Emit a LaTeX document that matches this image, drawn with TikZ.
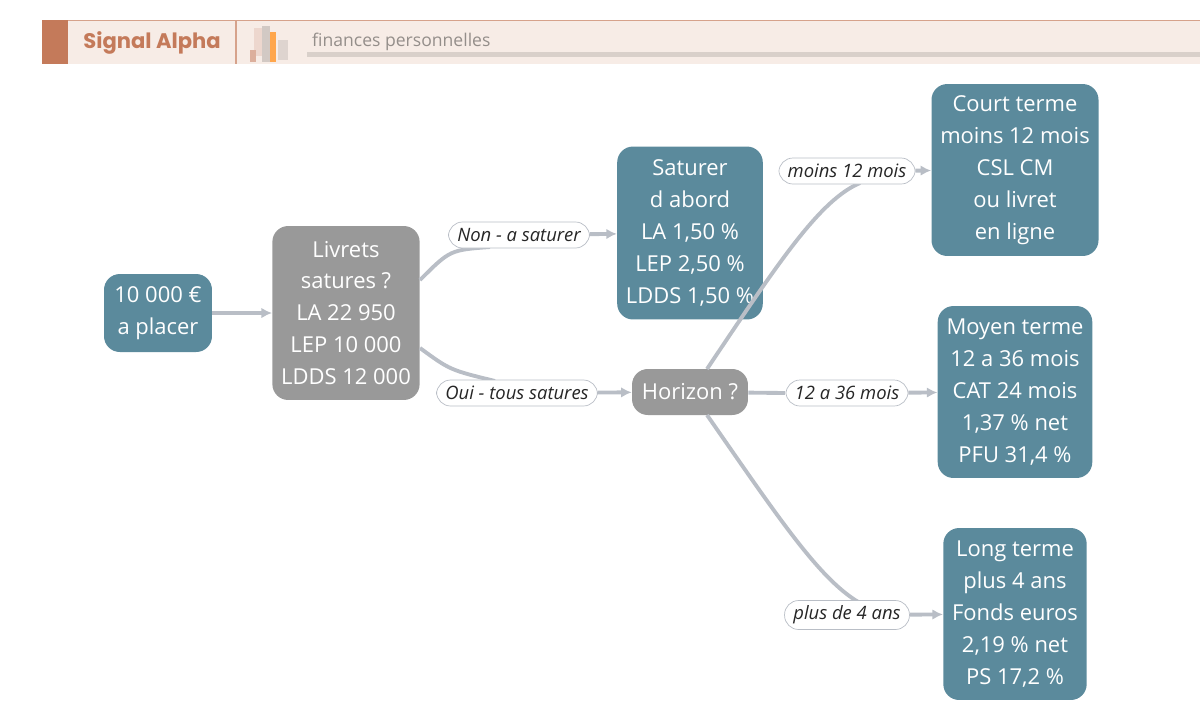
\documentclass[tikz,border=0pt]{standalone}
\usepackage{fontspec}
\setmainfont{Open Sans}
\newfontfamily\headfont{Poppins}
\usetikzlibrary{arrows.meta}
\definecolor{tealbox}{HTML}{5B8A9C}
\definecolor{graybox}{HTML}{999999}
\definecolor{linkgray}{HTML}{B9BEC6}
\definecolor{rust}{HTML}{C47A5A}
\definecolor{band}{HTML}{F7ECE6}
\tikzset{
  box/.style={rounded corners=9pt, text=white, align=center, font=\fontsize{12.5}{18.2}\selectfont, inner sep=5pt},
  teal/.style={box, fill=tealbox},
  grey/.style={box, fill=graybox},
  lbl/.style={draw=linkgray, fill=white, rounded corners=8pt, font=\itshape\fontsize{10.5}{12}\selectfont, text=black!85, inner xsep=5pt, inner ysep=3pt, minimum height=0.52cm},
  link/.style={draw=linkgray, line width=2.2pt},
  tip/.style={link, -{Latex[length=6pt,width=6pt]}}
}
\begin{document}
\begin{tikzpicture}[x=0.02cm,y=-0.02cm]
\useasboundingbox (0,0) rectangle (1200,721);
% header
\fill[band] (42,20) rectangle (1200,64);
\draw[rust!70, line width=0.8pt] (42,20.5) -- (1200,20.5);
\fill[rust] (42,20) rectangle (68,64);
\draw[rust!70, line width=0.8pt] (236,20) -- (236,64);
\node[text=rust, font=\headfont\bfseries\fontsize{12}{14}\selectfont] (brand) at (152,43) {Signal Alpha};
\fill[rust!30] (254,28) rectangle (262,56);
\fill[black!15!band] (262,26) rectangle (270,62);
\fill[orange!70] (270,32) rectangle (276,62);
\fill[black!10!band] (278,40) rectangle (288,60);
\fill[rust!60] (250,50) rectangle (256,62);
\node[text=black!40!band, font=\fontsize{10}{12}\selectfont, anchor=west] (sub) at (306,42) {finances personnelles};
\fill[black!12!band] (307,52) rectangle (1200,57);
% nodes
\node[teal, minimum width=2.16cm, minimum height=1.56cm] (start) at (158,313) {10 000 €\\a placer};
\node[grey, minimum width=2.88cm, minimum height=3.48cm] (livrets) at (346,313) {Livrets\\satures ?\\LA 22 950\\LEP 10 000\\LDDS 12 000};
\node[teal, minimum width=2.84cm, minimum height=3.46cm] (satur) at (690,233) {Saturer\\d abord\\LA 1,50 \%\\LEP 2,50 \%\\LDDS 1,50 \%};
\node[grey, minimum width=2.32cm, minimum height=0.92cm] (horizon) at (690,392) {Horizon ?};
\node[teal, minimum width=3.24cm, minimum height=3.44cm] (court) at (1015,170) {Court terme\\moins 12 mois\\CSL CM\\ou livret\\en ligne};
\node[teal, minimum width=3.02cm, minimum height=3.44cm] (moyen) at (1015,392) {Moyen terme\\12 a 36 mois\\CAT 24 mois\\1,37 \% net\\PFU 31,4 \%};
\node[teal, minimum width=2.78cm, minimum height=3.44cm] (long) at (1015,614) {Long terme\\plus 4 ans\\Fonds euros\\2,19 \% net\\PS 17,2 \%};
% edges
\draw[tip] (start) -- (livrets);
\draw[link] (livrets.east |- 0,280) .. controls (450,250) .. (490,247);
\node[lbl] (non) at (519,235) {Non - a saturer};
\draw[tip] (non) -- (satur);
\draw[link] (livrets.east |- 0,348) .. controls (450,370) .. (495,381);
\node[lbl] (oui) at (517,393) {Oui - tous satures};
\draw[tip] (oui) -- (horizon);
\draw[link] (707,369) .. controls (780,260) and (820,200) .. (860,183);
\node[lbl] (m12) at (847,171) {moins 12 mois};
\draw[tip] (m12) -- (court);
\draw[link] (horizon) -- (785,393);
\node[lbl] (m36) at (847,393) {12 a 36 mois};
\draw[tip] (m36) -- (moyen);
\draw[link] (707,415) .. controls (780,520) and (820,580) .. (860,603);
\node[lbl] (p4) at (847,615) {plus de 4 ans};
\draw[tip] (p4) -- (long);
\end{tikzpicture}
\end{document}
